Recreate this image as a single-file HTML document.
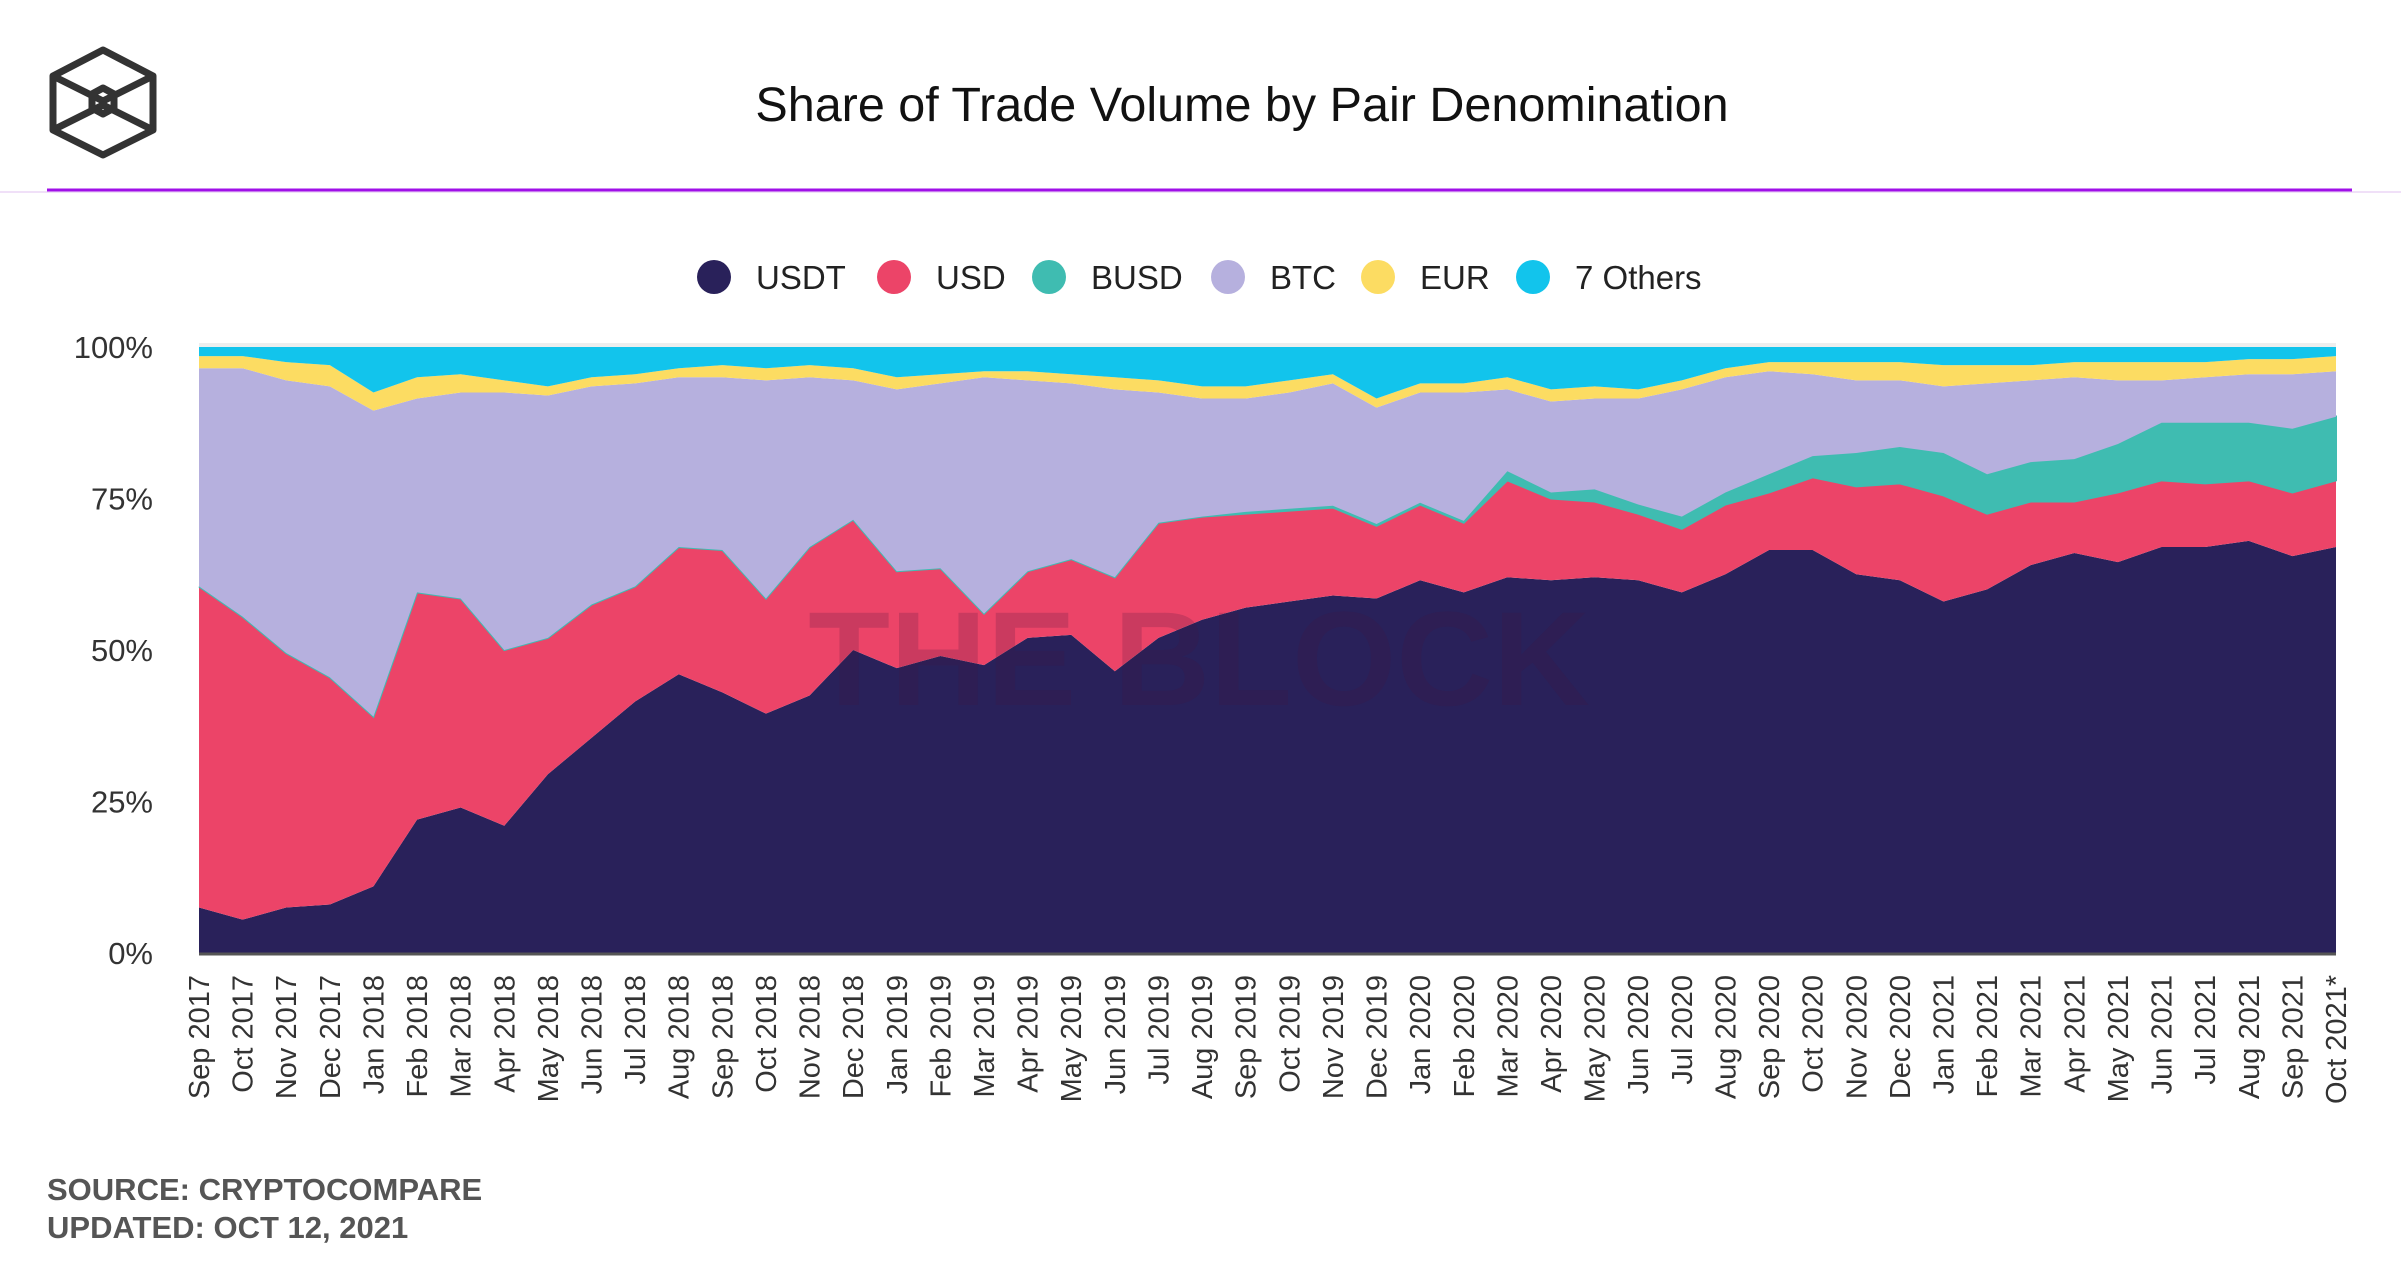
<!DOCTYPE html>
<html><head><meta charset="utf-8">
<style>
html,body{margin:0;padding:0;background:#fff;}
body{width:2401px;height:1260px;position:relative;overflow:hidden;font-family:"Liberation Sans",sans-serif;}
</style></head>
<body>
<svg id="chart" width="2401" height="1260" viewBox="0 0 2401 1260" xmlns="http://www.w3.org/2000/svg">
  <g fill="none" stroke="#333" stroke-width="7" stroke-linejoin="round">
    <polygon points="103,50 153,76 153,130 103,155 53,130 53,76"/>
    <polyline points="53,76 103,101 153,76"/>
    <polyline points="53,130 103,105 153,130"/>
    <polygon points="103,88 114,94 114,108 103,114 92,108 92,94"/>
  </g>
  <text x="1242" y="121" text-anchor="middle" font-size="48.5" fill="#111">Share of Trade Volume by Pair Denomination</text>
  <line x1="0" y1="192" x2="2401" y2="192" stroke="#f0e0f8" stroke-width="2"/>
  <line x1="47" y1="190" x2="2352" y2="190" stroke="#a010e8" stroke-width="3"/>
  <g id="legend"></g>
  <g id="plot"></g>
  <text x="47" y="1200" font-size="31" font-weight="bold" fill="#555">SOURCE: CRYPTOCOMPARE</text>
  <text x="47" y="1238" font-size="31" font-weight="bold" fill="#555">UPDATED: OCT 12, 2021</text>
</svg>
<script>
const categories = ["Sep 2017","Oct 2017","Nov 2017","Dec 2017","Jan 2018","Feb 2018","Mar 2018","Apr 2018","May 2018","Jun 2018","Jul 2018","Aug 2018","Sep 2018","Oct 2018","Nov 2018","Dec 2018","Jan 2019","Feb 2019","Mar 2019","Apr 2019","May 2019","Jun 2019","Jul 2019","Aug 2019","Sep 2019","Oct 2019","Nov 2019","Dec 2019","Jan 2020","Feb 2020","Mar 2020","Apr 2020","May 2020","Jun 2020","Jul 2020","Aug 2020","Sep 2020","Oct 2020","Nov 2020","Dec 2020","Jan 2021","Feb 2021","Mar 2021","Apr 2021","May 2021","Jun 2021","Jul 2021","Aug 2021","Sep 2021","Oct 2021*"];
const usdt = [7.5,5.5,7.5,8,11,22,24,21,29.5,35.5,41.5,46,43,39.5,42.5,50,47,49,47.5,52,52.5,46.5,52,55,57,58,59,58.5,61.5,59.5,62,61.5,62,61.5,59.5,62.5,66.5,66.5,62.5,61.5,58,60,64,66,64.5,67,67,68,65.5,67];
const usd = [53,50,42,37.5,28,37.5,34.5,29,22.5,22,19,21,23.5,19,24.5,21.5,16,14.5,8.5,11,12.5,15.5,19,17,15.5,15,14.5,12,12.5,11.5,16,13.5,12.5,11,10.5,11.5,9.5,12,14.5,16,17.5,12.5,10.5,8.5,11.5,11,10.5,10,10.5,11];
const busd = [0,0,0,0,0,0,0,0,0,0,0,0,0,0,0,0,0,0,0,0,0,0,0,0,0.3,0.3,0.3,0.3,0.3,0.3,1.5,1,2,1.5,2,2,3,3.5,5.5,6,7,6.5,6.5,7,8,9.5,10,9.5,10.5,10.5];
const btc = [36,41,45,48,50.5,32,34,42.5,40,36,33.5,28,28.5,36,28,23,30,30.5,39,31.5,29,31,21.5,19.5,18.7,19.2,20.2,19.2,18.2,21.2,13.5,15,15,17.5,21,19,17,13.5,12,11,11,15,13.5,13.5,10.5,7,7.5,8,9,7.5];
const eur = [2,2,3,3.5,3,3.5,3,2,1.5,1.5,1.5,1.5,2,2,2,2,2,1.5,1,1.5,1.5,2,2,2,2,2,1.5,1.5,1.5,1.5,2,2,2,1.5,1.5,1.5,1.5,2,3,3,3.5,3,2.5,2.5,3,3,2.5,2.5,2.5,2.5];
const others = [1.5,1.5,2.5,3,7.5,5,4.5,5.5,6.5,5,4.5,3.5,3,3.5,3,3.5,5,4.5,4,4,4.5,5,5.5,6.5,6.5,5.5,4.5,8.5,6,6,5,7,6.5,7,5.5,3.5,2.5,2.5,2.5,2.5,3,3,3,2.5,2.5,2.5,2.5,2,2,1.5];
const seriesNames = ["USDT","USD","BUSD","BTC","EUR","7 Others"];
const yTicks = [0,25,50,75,100];
const yTickLabels = ["0%","25%","50%","75%","100%"];

const NS="http://www.w3.org/2000/svg";
const series=[usdt,usd,busd,btc,eur,others];
const colors=["#29215a","#ec4468","#3fbcb1","#b6b0de","#fcdc62","#12c4ec"];
const L=199,R=2336,T=347,B=953;
const xs=i=>L+(R-L)*i/(categories.length-1);
const ys=v=>B-(B-T)*v/100;
function mk(tag,attrs,parent){const e=document.createElementNS(NS,tag);for(const k in attrs)e.setAttribute(k,attrs[k]);parent.appendChild(e);return e;}
const plot=document.getElementById('plot');
mk('rect',{x:L,y:T-4,width:R-L,height:4,fill:'#eeeeee'},plot);
const n=categories.length;
const totals=categories.map((c,i)=>series.reduce((s,a)=>s+a[i],0));
let base=new Array(n).fill(0);
const slugs=["usdt","usd","busd","btc","eur","others"];
series.forEach((arr,si)=>{
  const top=base.map((b,i)=>b+arr[i]*100/totals[i]);
  let d='M'+xs(0)+','+ys(top[0]);
  for(let i=1;i<n;i++)d+=' L'+xs(i)+','+ys(top[i]);
  for(let i=n-1;i>=0;i--)d+=' L'+xs(i)+','+ys(base[i]);
  d+=' Z';
  const p=mk('path',{d:d,fill:colors[si],stroke:si===2?'#3fbcb1':'none','stroke-width':si===2?2:0},plot);
  
  
  base=top;
});
const wm=mk('text',{x:1199,y:705,'text-anchor':'middle','font-size':134,'font-weight':'bold',fill:'rgba(70,20,60,0.2)'},plot);
wm.textContent='THE BLOCK';


const axis=mk('line',{x1:L,y1:B+1,x2:R,y2:B+1,stroke:'#555','stroke-width':3},plot);


yTicks.forEach((v,i)=>{
  const t=mk('text',{x:153,y:ys(v)+11,'text-anchor':'end','font-size':31,fill:'#333'},plot);
  t.textContent=yTickLabels[i];
  
  
});
categories.forEach((c,i)=>{
  const x=xs(i)+10;
  const t=mk('text',{x:x,y:975,'text-anchor':'end','font-size':29,fill:'#333',transform:'rotate(-90 '+x+' 975)'},plot);
  t.textContent=c;
  
  
});
const legend=document.getElementById('legend');
const lgCx=[714,894,1049,1228,1378,1533];
seriesNames.forEach((nm,i)=>{
  const g=mk('g',{},legend);
  
  
  mk('circle',{cx:lgCx[i],cy:277,r:17,fill:colors[i]},g);
  const t=mk('text',{x:lgCx[i]+42,y:289,'font-size':33,fill:'#222'},g);
  t.textContent=nm;
});
</script>
</body></html>
